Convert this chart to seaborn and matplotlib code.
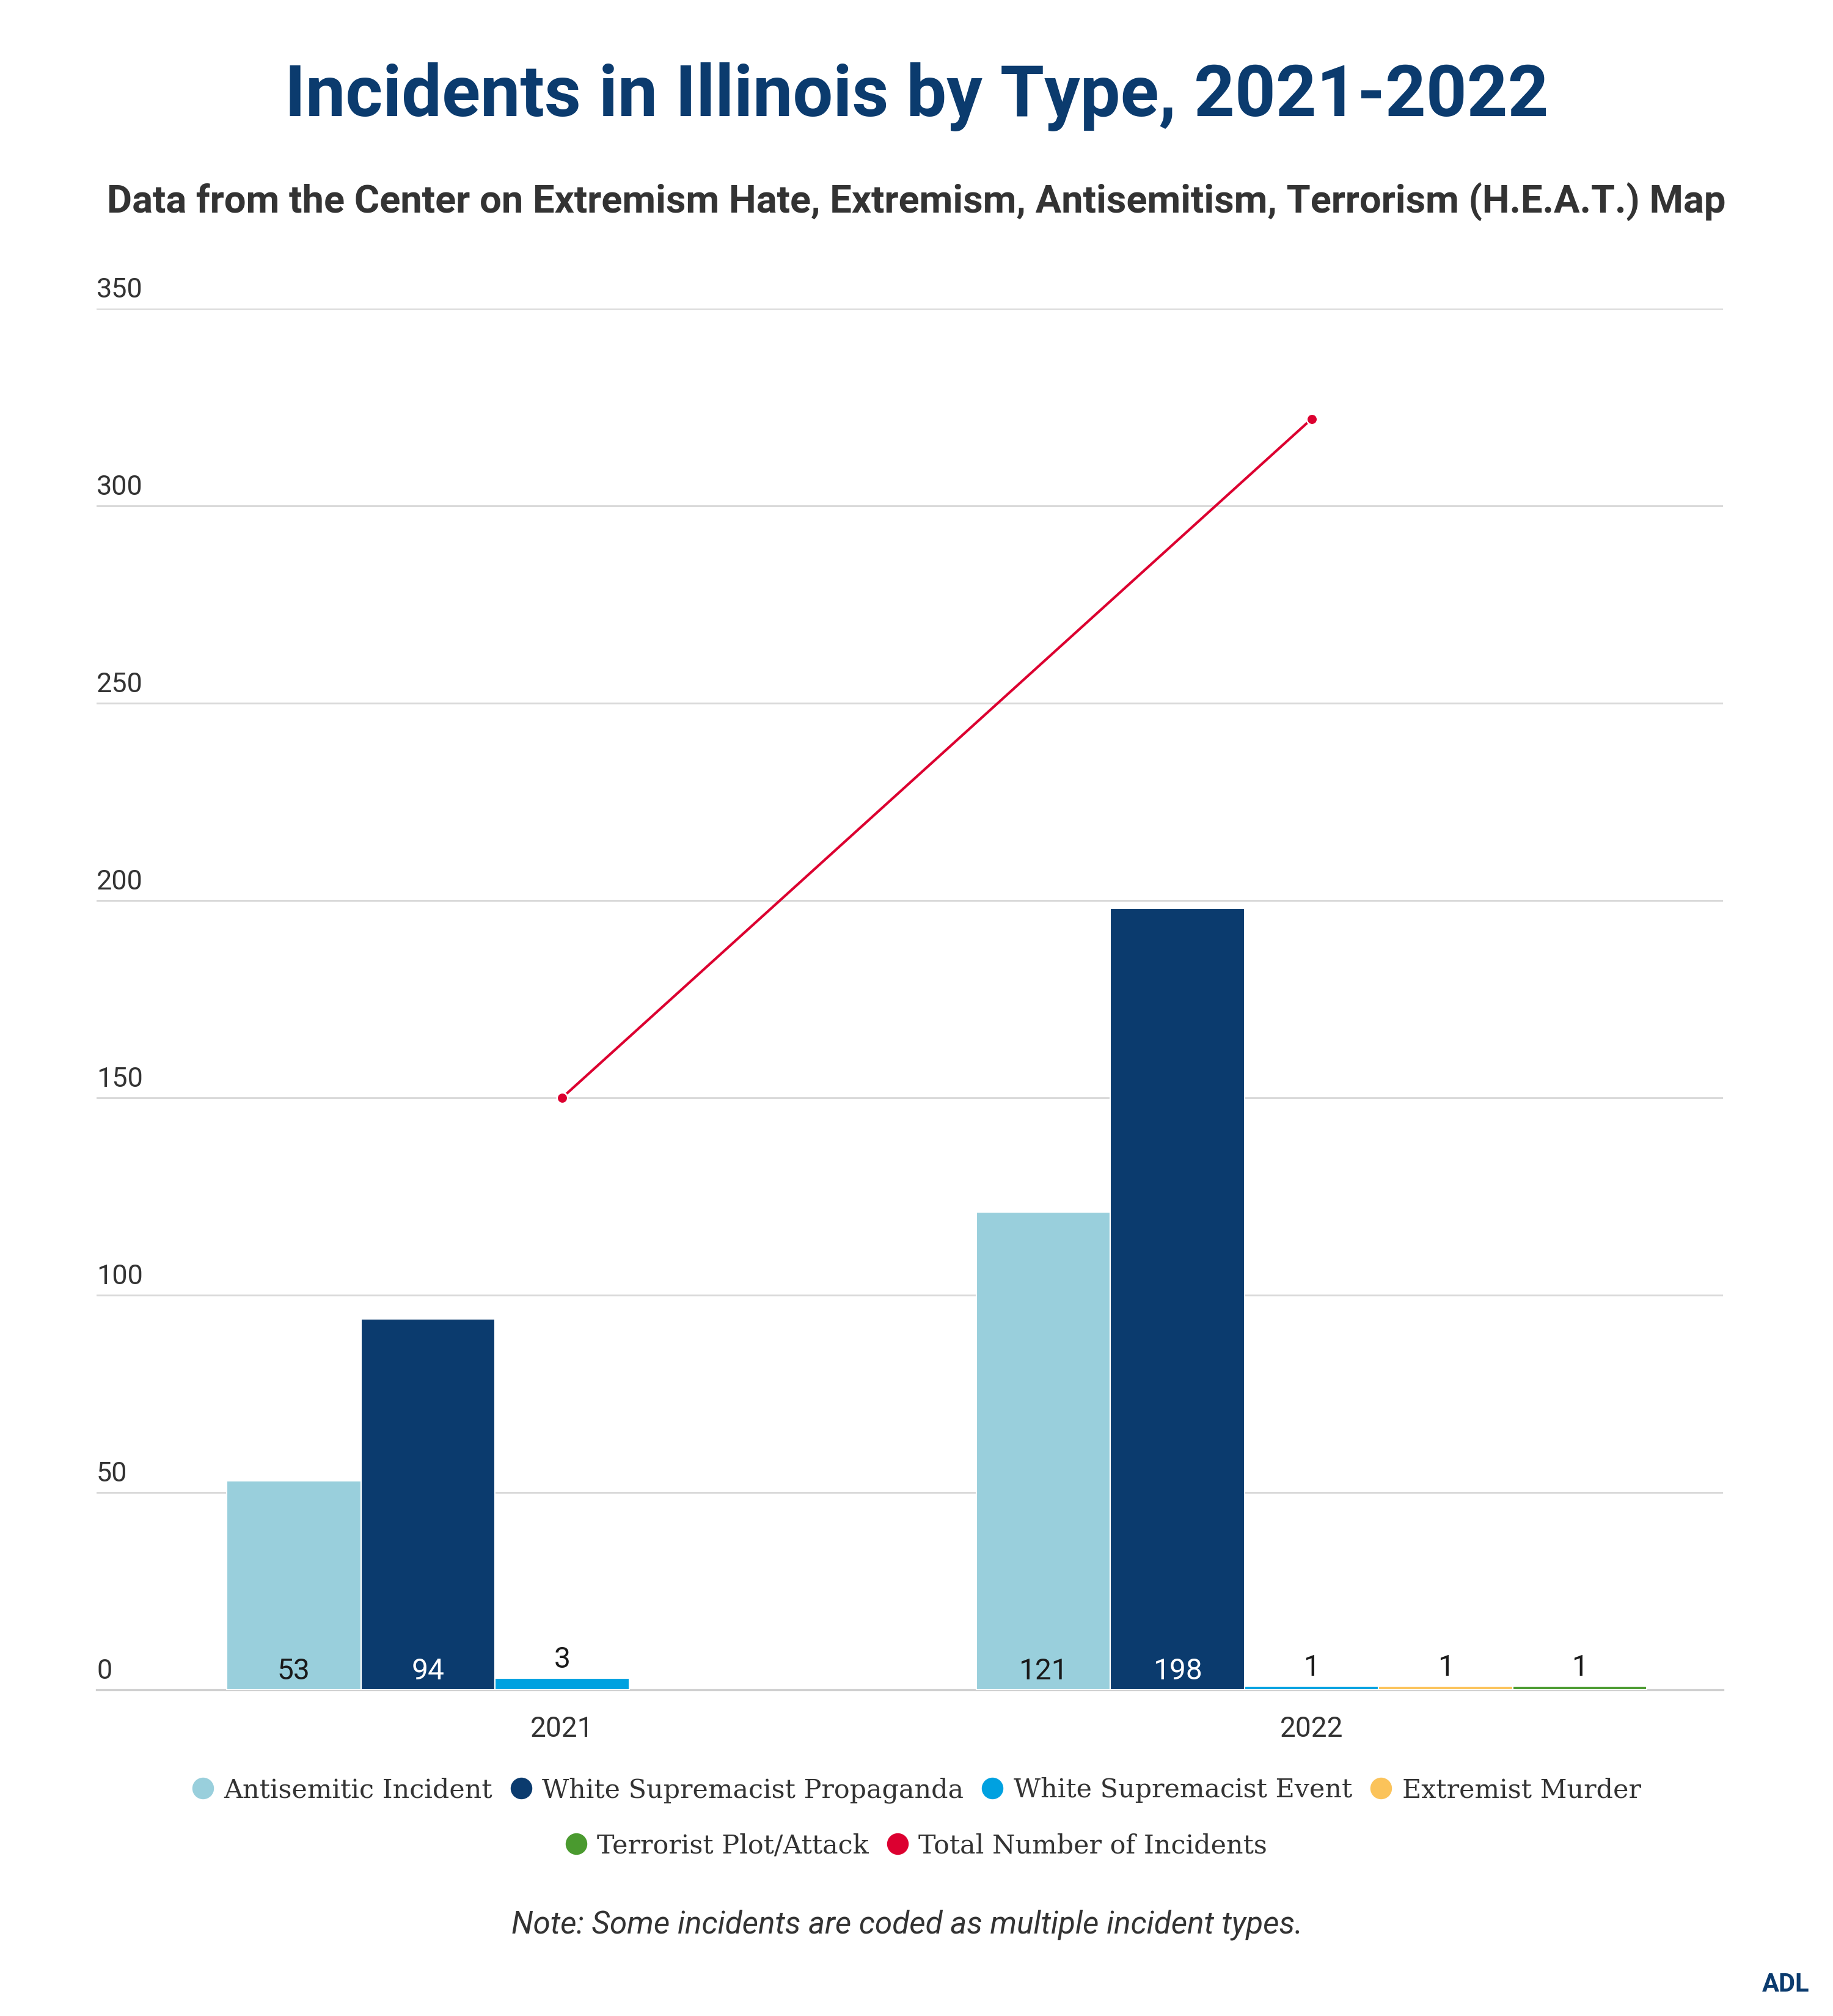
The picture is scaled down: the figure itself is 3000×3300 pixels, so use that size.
import numpy as np
import pandas as pd
import matplotlib
matplotlib.use("Agg")
import matplotlib.pyplot as plt
import matplotlib.transforms as mtransforms
from matplotlib.lines import Line2D
import seaborn as sns

# ---- data ----
years = ["2021", "2022"]
incident_types = ["Antisemitic Incident", "White Supremacist Propaganda",
                  "White Supremacist Event", "Extremist Murder", "Terrorist Plot/Attack"]
antisemitic = [53, 121]
ws_propaganda = [94, 198]
ws_event = [3, 1]
extremist_murder = [np.nan, 1]
terrorist_plot = [np.nan, 1]
total_incidents = [150, 322]
total_label = "Total Number of Incidents"

colors = ["#99cfdc", "#0b3b6e", "#00a1e0", "#fbc35a", "#4a9a2f"]
total_color = "#dc0030"
label_colors = ["#1a1a1a", "#ffffff", "#1a1a1a", "#1a1a1a", "#1a1a1a"]

series = [antisemitic, ws_propaganda, ws_event, extremist_murder, terrorist_plot]
rows = []
for t, vals in zip(incident_types, series):
    for y, v in zip(years, vals):
        if not np.isnan(v):
            rows.append({"year": y, "type": t, "count": v})
df = pd.DataFrame(rows)

sns.set_theme(style="white")
plt.rcParams["font.family"] = ["Roboto", "DejaVu Sans"]

fig = plt.figure(figsize=(10, 11), dpi=300)
ax = fig.add_axes([0.0527, 0.1618, 0.8873, 0.6852])

sns.barplot(data=df, x="year", y="count", hue="type", hue_order=incident_types,
            order=years, palette=colors, saturation=1, width=0.895, dodge=True,
            edgecolor="white", linewidth=0.5, legend=False, ax=ax, zorder=3)

sns.pointplot(x=years, y=total_incidents, order=years, color=total_color,
              markers="o", markersize=4.2, linewidth=1.0, ax=ax,
              markeredgecolor="white", markeredgewidth=0.6, zorder=6)

ax.set_ylim(0, 350)
ax.set_xlim(-0.621, 1.549)
ax.set_yticks(np.arange(0, 351, 50))
ax.grid(axis="y", color="#d9d9d9", linewidth=0.7, zorder=0)
ax.grid(axis="x", visible=False)
for s in ["top", "right", "left"]:
    ax.spines[s].set_visible(False)
ax.spines["bottom"].set_color("#d0d0d0")
ax.spines["bottom"].set_linewidth(0.8)
ax.set_xlabel("")
ax.set_ylabel("")

# y tick labels: left aligned, sitting above gridlines
ax.tick_params(axis="y", length=0, pad=0, labelsize=10.8, labelcolor="#333333")
ax.tick_params(axis="x", length=0, pad=10, labelsize=11, labelcolor="#333333")
offset = mtransforms.ScaledTranslation(0, 2.2 / 72, fig.dpi_scale_trans)
for lab in ax.get_yticklabels():
    lab.set_horizontalalignment("left")
    lab.set_verticalalignment("bottom")
    lab.set_transform(lab.get_transform() + offset)

# value labels
for container, lc in zip(ax.containers, label_colors):
    for bar in container.patches:
        v = bar.get_height()
        if np.isnan(v):
            continue
        x = bar.get_x() + bar.get_width() / 2
        big = v >= 20
        ypos = 0 if big else v
        ax.annotate(f"{int(round(v))}", (x, ypos), xytext=(0, 1.6), textcoords="offset points",
                    ha="center", va="bottom", fontsize=11.5,
                    color=lc if big else "#1a1a1a", zorder=7)

# titles
fig.text(0.5, 0.952, "Incidents in Illinois by Type, 2021-2022", ha="center", va="center",
         fontsize=28, fontweight="bold", color="#0b3b6e")
fig.text(0.5, 0.900, "Data from the Center on Extremism Hate, Extremism, Antisemitism, Terrorism (H.E.A.T.) Map",
         ha="center", va="center", fontsize=15.2, fontweight="bold", color="#333333")

# legend (two centered rows)
def handle(c):
    return Line2D([], [], marker="o", linestyle="none", markersize=7.5,
                  markerfacecolor=c, markeredgecolor=c)

leg_kw = dict(frameon=False, handlelength=0.8, handletextpad=0.4, columnspacing=0.7,
              prop={"family": "DejaVu Serif", "size": 10.3}, labelcolor="#333333",
              loc="center")
h1 = [handle(c) for c in colors[:4]]
leg1 = fig.legend(h1, incident_types[:4], ncol=4, bbox_to_anchor=(0.5, 0.112), **leg_kw)
h2 = [handle(colors[4]), handle(total_color)]
leg2 = fig.legend(h2, [incident_types[4], total_label], ncol=2,
                  bbox_to_anchor=(0.5, 0.0845), **leg_kw)

fig.text(0.495, 0.0452, "Note: Some incidents are coded as multiple incident types.",
         ha="center", va="center", fontsize=12.3, style="italic", color="#333333")

# ADL mark
fig.text(0.987, 0.0095, "ADL", ha="right", va="bottom", fontsize=10,
         fontweight="bold", color="#0b3b6e")

fig.savefig("out.png", dpi=300)
